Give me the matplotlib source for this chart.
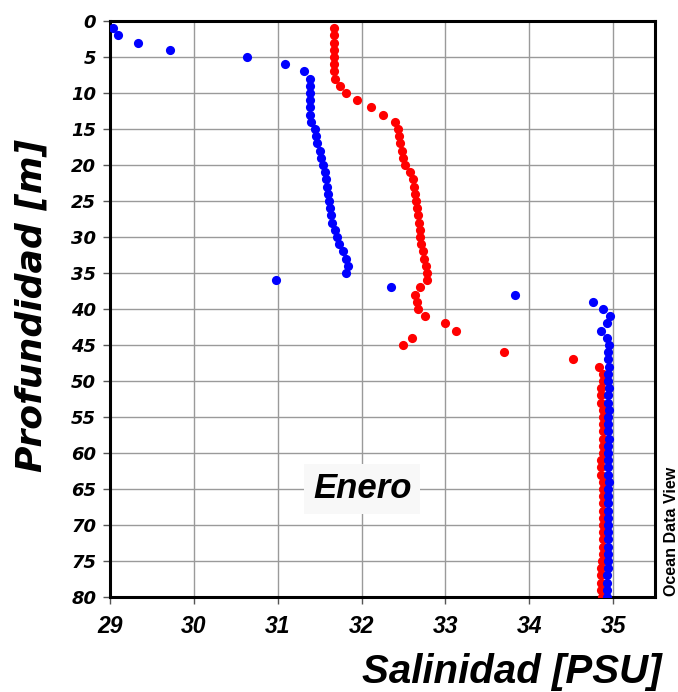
import matplotlib.pyplot as plt
from matplotlib import font_manager
import numpy as np

# depth in metres (1..80) for both profiles
depth = list(range(1, 81))

# blue profile salinity [PSU]
sal_blue = [29.04, 29.09, 29.33, 29.71, 30.63, 31.09, 31.31, 31.39, 31.39, 31.38,
            31.38, 31.39, 31.39, 31.40, 31.45, 31.46, 31.47, 31.50, 31.52, 31.54,
            31.57, 31.58, 31.59, 31.60, 31.61, 31.62, 31.64, 31.65, 31.68, 31.71,
            31.73, 31.78, 31.81, 31.84, 31.82, 30.98, 32.35, 33.83, 34.76, 34.88,
            34.96, 34.93, 34.86, 34.93, 34.95, 34.94, 34.94, 34.95, 34.94, 34.94,
            34.95, 34.94, 34.94, 34.95, 34.94, 34.94, 34.94, 34.95, 34.94, 34.94,
            34.94, 34.94, 34.94, 34.95, 34.94, 34.94, 34.94, 34.94, 34.94, 34.94,
            34.94, 34.94, 34.94, 34.94, 34.94, 34.94, 34.93, 34.93, 34.93, 34.93]

# red profile salinity [PSU]
sal_red = [31.67, 31.67, 31.67, 31.67, 31.67, 31.67, 31.67, 31.68, 31.74, 31.82,
           31.94, 32.11, 32.26, 32.40, 32.43, 32.45, 32.46, 32.48, 32.49, 32.52,
           32.58, 32.61, 32.62, 32.64, 32.65, 32.66, 32.67, 32.68, 32.70, 32.70,
           32.71, 32.73, 32.75, 32.77, 32.78, 32.78, 32.70, 32.64, 32.66, 32.67,
           32.76, 33.00, 33.13, 32.60, 32.49, 33.70, 34.52, 34.83, 34.88, 34.88,
           34.86, 34.86, 34.85, 34.88, 34.88, 34.88, 34.88, 34.88, 34.88, 34.88,
           34.86, 34.85, 34.86, 34.88, 34.88, 34.88, 34.88, 34.88, 34.88, 34.88,
           34.88, 34.88, 34.88, 34.88, 34.87, 34.86, 34.86, 34.86, 34.86, 34.87]

x_ticks = [29, 30, 31, 32, 33, 34, 35]
y_ticks = list(range(0, 85, 5))

# pick a narrow font if there is one
names = {f.name for f in font_manager.fontManager.ttflist}
narrow = 'Liberation Sans Narrow' if 'Liberation Sans Narrow' in names else 'Liberation Sans'

fig = plt.figure(figsize=(6.78, 6.92), dpi=100)
ax = fig.add_axes([110 / 678, 1 - 597 / 692, 545 / 678, 576 / 692])

ax.plot(sal_red, depth, 'o', color='#ff0000', markersize=6.6, markeredgewidth=0, zorder=3)
ax.plot(sal_blue, depth, 'o', color='#0000ff', markersize=6.6, markeredgewidth=0, zorder=4)

ax.set_xlim(29, 35.5)
ax.set_ylim(80, 0)
ax.set_xticks(x_ticks)
ax.set_yticks(y_ticks)
ax.grid(True, color='#9a9a9a', linewidth=1.0)
ax.set_axisbelow(True)

for s in ax.spines.values():
    s.set_linewidth(2.2)

ax.tick_params(axis='both', direction='out', length=5, width=1, color='#555555')
ax.tick_params(axis='y', pad=5)
ax.tick_params(axis='x', pad=8)

for lab in ax.get_yticklabels():
    lab.set_fontfamily('DejaVu Sans')
    lab.set_fontweight('bold')
    lab.set_fontstyle('italic')
    lab.set_fontsize(13)
for lab in ax.get_xticklabels():
    lab.set_fontfamily(narrow)
    lab.set_fontweight('bold')
    lab.set_fontstyle('italic')
    lab.set_fontsize(16.5)

fig.text(32 / 678, 1 - 305 / 692, 'Profundidad [m]', rotation=90, ha='center', va='center',
         fontfamily='DejaVu Sans', fontweight='bold', fontstyle='italic', fontsize=26)
fig.text(662 / 678, 1 - 672 / 692, 'Salinidad [PSU]', ha='right', va='center',
         fontfamily=narrow, fontweight='bold', fontstyle='italic', fontsize=29)

ax.text(32.01, 65, 'Enero', ha='center', va='center', fontfamily='Liberation Sans',
        fontweight='bold', fontstyle='italic', fontsize=25, zorder=5,
        bbox=dict(boxstyle='square,pad=0.25', facecolor='#f8f8f8', edgecolor='none'))

fig.text(672 / 678, 1 - 531 / 692, 'Ocean Data View', rotation=90, ha='center', va='center',
         fontfamily='Liberation Sans', fontweight='bold', fontsize=11.5)

fig.savefig('out.png', dpi=100)
